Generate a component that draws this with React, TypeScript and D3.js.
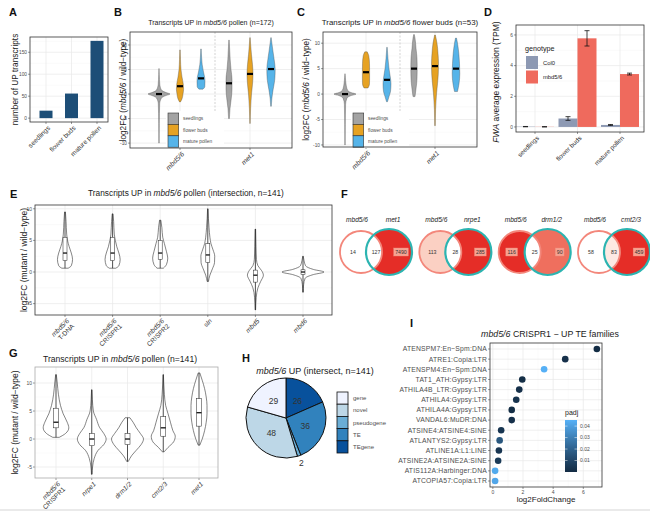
import React from 'react';
import * as d3 from 'd3';

const FONT = "'Liberation Sans', Arial, Helvetica, sans-serif";
const INK = '#1a1a1a';
const TXT = '#4d4d4d';
const GRID = '#e8e8e8';
const GRID_MINOR = '#f4f4f4';

// ---- A: number of UP transcripts
const stages = ['seedlings', 'flower buds', 'mature pollen'];
const upTranscripts = [17, 56, 176];
const aTicks = [0, 50, 100, 150];
const aMinor = [25, 75, 125, 175];

// ---- B, C: log2FC violins per tissue
const bcGenotypes = ['mbd5/6', 'met1'];
const tissues = ['seedlings', 'flower buds', 'mature pollen'];
const tissueColors = ['#a3a3a3', '#e6a223', '#56b4e9'];
const fcTicks = [-10, -5, 0, 5, 10];
const fcMinor = [-7.5, -2.5, 2.5, 7.5];

// profile: [log2FC, relative density]
const violinsB = [
  [
    { med: 0, prof: [[-10, 0.02], [-6, 0.03], [-2, 0.07], [-0.8, 0.25], [-0.3, 0.7], [0, 1.1], [0.3, 0.7], [0.8, 0.25], [2, 0.08], [4, 0.03], [5.2, 0.01]] },
    { med: 1.6, prof: [[-1.6, 0.05], [-1, 0.2], [0, 0.3], [1, 0.36], [2, 0.33], [3.5, 0.2], [5, 0.1], [7, 0.05], [9, 0.02]] },
    { med: 3.2, prof: [[1, 0.2], [1.5, 0.38], [2.5, 0.4], [3.5, 0.36], [4.5, 0.25], [6, 0.12], [7.5, 0.06], [9.2, 0.02]] },
  ],
  [
    { med: 2.2, prof: [[-5, 0.04], [-3, 0.1], [-1, 0.22], [1, 0.3], [3, 0.3], [5, 0.2], [7, 0.12], [9, 0.07], [11, 0.02]] },
    { med: 4.1, prof: [[-6, 0.02], [-3, 0.06], [0, 0.15], [2, 0.25], [4, 0.3], [6, 0.25], [8, 0.15], [10, 0.07], [11.5, 0.02]] },
    { med: 5.1, prof: [[-2.5, 0.03], [-1, 0.08], [1, 0.22], [3, 0.38], [5, 0.42], [7, 0.32], [9, 0.18], [10.5, 0.08], [11.5, 0.02]] },
  ],
];

const violinsC = [
  [
    { med: 0, prof: [[-10, 0.02], [-6, 0.03], [-2, 0.06], [-0.8, 0.2], [-0.3, 0.6], [0, 1.1], [0.3, 0.6], [0.8, 0.25], [2, 0.1], [3.3, 0.04], [4, 0.01]] },
    { med: 4.3, prof: [[1.2, 0.2], [2, 0.35], [3, 0.36], [4.5, 0.36], [6, 0.35], [7.5, 0.28], [8.3, 0.12]] },
    { med: 2.8, prof: [[-1.5, 0.05], [-0.5, 0.2], [0.5, 0.35], [2, 0.4], [3.5, 0.32], [5, 0.2], [7, 0.1], [9.2, 0.02]] },
  ],
  [
    { med: 5, prof: [[-0.5, 0.1], [1, 0.2], [3, 0.3], [5, 0.32], [7, 0.3], [9, 0.2], [11, 0.1], [11.7, 0.03]] },
    { med: 5.5, prof: [[-6.2, 0.03], [-3, 0.06], [0, 0.15], [2, 0.25], [4, 0.33], [6, 0.35], [8, 0.3], [10, 0.2], [11.6, 0.04]] },
    { med: 5, prof: [[0.5, 0.15], [2, 0.3], [4, 0.38], [6, 0.35], [8, 0.28], [10, 0.15], [11, 0.05]] },
  ],
];

// ---- D: FWA expression
const fwaGenotypes = ['Col0', 'mbd5/6'];
const fwaColors = ['#8d99b3', '#ef6a5d'];
const fwaMean = [[0.02, 0.01], [0.55, 5.78], [0.13, 3.45]];
const fwaErr = [[0.01, 0.01], [0.12, 0.5], [0.03, 0.06]];
const dTicks = [0, 2, 4, 6];
const dMinor = [1, 3, 5];

// ---- E: intersection violins
const eLabels = [['mbd5/6', 'T-DNA'], ['mbd5/6', 'CRISPR1'], ['mbd5/6', 'CRISPR2'], ['sln'], ['mbd5'], ['mbd6']];
const eViolins = [
  { lo: 0.6, q1: 1.8, med: 3, q3: 5.5, hi: 9.5, prof: [[0.6, 0.15], [1, 0.3], [2, 0.36], [3, 0.3], [4, 0.2], [5, 0.12], [6, 0.08], [8, 0.05], [9.5, 0.02]] },
  { lo: 0.6, q1: 1.8, med: 3, q3: 5.5, hi: 9.2, prof: [[0.6, 0.15], [1, 0.3], [2, 0.36], [3, 0.3], [4, 0.2], [5, 0.13], [6, 0.08], [8, 0.05], [9.2, 0.02]] },
  { lo: 0.6, q1: 2, med: 3, q3: 5, hi: 8.2, prof: [[0.6, 0.15], [1.2, 0.3], [2.2, 0.36], [3.2, 0.3], [4.5, 0.2], [5.5, 0.12], [7, 0.08], [8.2, 0.03]] },
  { lo: -1.5, q1: 1.5, med: 2.7, q3: 4.5, hi: 10, prof: [[-1.5, 0.03], [-0.5, 0.1], [0.5, 0.22], [1.5, 0.32], [2.5, 0.33], [3.5, 0.25], [4.5, 0.15], [5.5, 0.1], [7, 0.06], [8.5, 0.03], [10, 0.01]] },
  { lo: -6, q1: -1.6, med: -0.5, q3: 0.3, hi: 6.8, prof: [[-6, 0.01], [-4, 0.04], [-2.5, 0.12], [-1.5, 0.25], [-0.5, 0.38], [0.2, 0.3], [1, 0.12], [2, 0.05], [4, 0.03], [6.8, 0.01]] },
  { lo: -3.2, q1: -0.4, med: 0, q3: 0.35, hi: 2.5, prof: [[-3.2, 0.01], [-2, 0.03], [-1, 0.1], [-0.4, 0.5], [0, 1], [0.4, 0.5], [1, 0.12], [1.8, 0.05], [2.5, 0.01]] },
];
const eTicks = [-5, 0, 5, 10];
const eMinor = [-2.5, 2.5, 7.5];

// ---- F: venn overlaps
const vennPartners = ['met1', 'nrpe1', 'drm1/2', 'cmt2/3'];
const vennCounts = [[14, 127, 7490], [113, 28, 285], [116, 25, 90], [58, 83, 459]];
const vennFills = [
  ['#ffffff', '#ffffff', '#e52d27'],
  ['#fbd0c3', '#ffffff', '#e52d27'],
  ['#e52d27', '#ffffff', '#ef6f5e'],
  ['#ffffff', '#fde9e3', '#e52d27'],
];
const vennBoxed = [[false, false, true], [false, false, true], [true, false, true], [false, false, true]];

// ---- G: pollen violins
const gLabels = [['mbd5/6', 'CRISPR1'], ['nrpe1'], ['drm1/2'], ['cmt2/3'], ['met1']];
const gViolins = [
  { lo: 0.3, q1: 2, med: 3, q3: 5.5, hi: 11.5, prof: [[0.3, 0.2], [1, 0.6], [2, 0.8], [3, 0.7], [4.5, 0.45], [6, 0.28], [8, 0.15], [10, 0.08], [11.5, 0.02]] },
  { lo: -6.3, q1: -1.2, med: 0, q3: 1, hi: 8.8, prof: [[-6.3, 0.02], [-5, 0.05], [-3.5, 0.15], [-2, 0.4], [-1, 0.75], [0, 0.9], [1, 0.75], [2, 0.5], [3.5, 0.3], [5, 0.1], [7, 0.04], [8.8, 0.01]] },
  { lo: -4, q1: -1, med: 0, q3: 1, hi: 3.8, prof: [[-4, 0.05], [-3, 0.25], [-2, 0.55], [-1, 0.85], [0, 1], [1, 0.8], [2, 0.55], [3, 0.35], [3.8, 0.15]] },
  { lo: -2.3, q1: 0.5, med: 2, q3: 4, hi: 11.5, prof: [[-2.3, 0.05], [-1.5, 0.3], [-0.5, 0.65], [0.5, 0.75], [1.5, 0.6], [3, 0.45], [4.5, 0.3], [6, 0.15], [8, 0.07], [10, 0.03], [11.5, 0.01]] },
  { lo: -1.1, q1: 2.3, med: 4.7, q3: 7.2, hi: 11.8, prof: [[-1.1, 0.05], [0, 0.2], [1.5, 0.35], [3, 0.45], [4.5, 0.5], [6, 0.5], [7.5, 0.45], [9, 0.35], [10.5, 0.2], [11.8, 0.05]] },
];
const gTicks = [-5, 0, 5, 10];
const gMinor = [-2.5, 2.5, 7.5];

// ---- H: pie of categories
const pieCats = ['gene', 'novel', 'pseudogene', 'TE', 'TEgene'];
const pieCounts = [29, 48, 2, 36, 26];
const pieColors = ['#eff3ff', '#bdd7e7', '#6baed6', '#3182bd', '#08519c'];

// ---- I: TE families
const teFamilies = [
  'ATENSPM7:En\u2212Spm:DNA', 'ATRE1:Copia:LTR', 'ATENSPM4:En\u2212Spm:DNA', 'TAT1_ATH:Gypsy:LTR',
  'ATHILA4B_LTR:Gypsy:LTR', 'ATHILA4:Gypsy:LTR', 'ATHILA4A:Gypsy:LTR', 'VANDAL6:MuDR:DNA',
  'ATSINE4:ATSINE4:SINE', 'ATLANTYS2:Gypsy:LTR', 'ATLINE1A:L1:LINE', 'ATSINE2A:ATSINE2A:SINE',
  'ATIS112A:Harbinger:DNA', 'ATCOPIA57:Copia:LTR',
];
const teLog2FC = [6.9, 4.8, 3.4, 1.95, 1.75, 1.55, 1.25, 1.25, 0.55, 0.45, 0.4, 0.35, 0.15, 0.15];
const tePadj = [0.0002, 0.002, 0.045, 0.001, 0.002, 0.003, 0.001, 0.002, 0.004, 0.016, 0.004, 0.006, 0.043, 0.042];
const iTicks = [0, 2, 4, 6];
const iMinor = [1, 3, 5, 7];
const padjTicks = [0.01, 0.02, 0.03, 0.04];

type Prof = number[][];

function violinPath(prof: Prof, cx: number, y: any, w: any) {
  const pts = [...prof].reverse();
  return d3.area<number[]>()
    .y(d => y(d[0]))
    .x0(d => cx - w(d[1]))
    .x1(d => cx + w(d[1]))
    .curve(d3.curveMonotoneY)(pts) || '';
}

function Letter({ x, y, t }: any) {
  return <text x={x} y={y} fontSize={11} fontWeight="bold" fill="#111">{t}</text>;
}

function HGrid({ y, ticks, minor, x0, x1, fmt, size = 4.8 }: any) {
  return (
    <g>
      {minor.map((v: number) => (
        <line key={'m' + v} x1={x0} x2={x1} y1={y(v)} y2={y(v)} stroke={GRID_MINOR} strokeWidth={0.5} />
      ))}
      {ticks.map((v: number) => (
        <g key={v}>
          <line x1={x0} x2={x1} y1={y(v)} y2={y(v)} stroke={GRID} strokeWidth={0.7} />
          <line x1={x0 - 2} x2={x0} y1={y(v)} y2={y(v)} stroke="#333" strokeWidth={0.5} />
          <text x={x0 - 3} y={y(v)} dy="0.35em" textAnchor="end" fontSize={size} fill={TXT}>{fmt ? fmt(v) : v}</text>
        </g>
      ))}
    </g>
  );
}

function VGrid({ xs, y0, y1 }: any) {
  return (
    <g>
      {xs.map((x: number, i: number) => (
        <g key={i}>
          <line x1={x} x2={x} y1={y0} y2={y1} stroke={GRID} strokeWidth={0.7} />
          <line x1={x} x2={x} y1={y1} y2={y1 + 2} stroke="#333" strokeWidth={0.5} />
        </g>
      ))}
    </g>
  );
}

function Frame({ x0, x1, y0, y1, stroke = '#333' }: any) {
  return <rect x={x0} y={y0} width={x1 - x0} height={y1 - y0} fill="none" stroke={stroke} strokeWidth={0.8} />;
}

function RotLabel({ x, y, lines, size = 6.5, italicFirst = true }: any) {
  return (
    <text transform={`translate(${x},${y}) rotate(-45)`} textAnchor="end" fontSize={size} fill="#333">
      {lines.map((l: string, i: number) => (
        <tspan key={i} x={0} dy={i === 0 ? '0.75em' : '1.1em'} fontStyle={i === 0 && italicFirst ? 'italic' : 'normal'}>{l}</tspan>
      ))}
    </text>
  );
}

function YTitle({ x, y, children, size = 8 }: any) {
  return (
    <text transform={`translate(${x},${y}) rotate(-90)`} textAnchor="middle" fontSize={size} fill={INK}>{children}</text>
  );
}

function PanelA() {
  const x0 = 30, x1 = 108, y0 = 37, y1 = 122;
  const y = d3.scaleLinear().domain([-8.8, 184.8]).range([y1, y0]);
  const x = d3.scalePoint<string>().domain(stages).range([46, 97]);
  const bw = 13;
  return (
    <g>
      <Letter x={9} y={16} t="A" />
      <HGrid y={y} ticks={aTicks} minor={aMinor} x0={x0} x1={x1} />
      <VGrid xs={stages.map(s => x(s))} y0={y0} y1={y1} />
      {upTranscripts.map((v, i) => (
        <rect key={i} x={x(stages[i])! - bw / 2} y={y(v)} width={bw} height={y(0) - y(v)} fill="#1d4e77" />
      ))}
      <Frame x0={x0} x1={x1} y0={y0} y1={y1} />
      {stages.map(s => <RotLabel key={s} x={x(s)! + 1} y={y1 + 3} lines={[s]} size={6.6} italicFirst={false} />)}
      <YTitle x={18} y={(y0 + y1) / 2} size={8.3}>number of UP transcripts</YTitle>
    </g>
  );
}

function PanelBC({ letter, lx, title, tsize, x0, x1, y0, y1, dom, centers, sep, data, legX, yTitleX }: any) {
  const y = d3.scaleLinear().domain(dom).range([y1, y0]);
  const x = d3.scalePoint<string>().domain(bcGenotypes).range(centers);
  const dodge = d3.scalePoint<string>().domain(tissues).range([-21, 21]);
  const w = d3.scaleLinear().domain([0, 1]).range([0, 10]);
  return (
    <g>
      <Letter x={lx} y={16} t={letter} />
      <text x={(x0 + x1) / 2} y={25} textAnchor="middle" fontSize={tsize} fill={INK}>{title}</text>
      <HGrid y={y} ticks={fcTicks} minor={fcMinor} x0={x0} x1={x1} />
      <VGrid xs={bcGenotypes.map(g => x(g))} y0={y0} y1={y1} />
      <line x1={sep} x2={sep} y1={y0} y2={y1} stroke="#b5b5b5" strokeWidth={0.6} strokeDasharray="2,1.5" />
      {data.map((grp: any[], gi: number) => grp.map((v: any, ti: number) => {
        const cx = x(bcGenotypes[gi])! + dodge(tissues[ti])!;
        return (
          <g key={gi + '-' + ti}>
            <path d={violinPath(v.prof, cx, y, w)} fill={tissueColors[ti]} stroke="#444" strokeWidth={0.35} />
            <rect x={cx - 3} y={y(v.med) - 1.1} width={6} height={2.2} fill="#000" />
          </g>
        );
      }))}
      <g>
        <rect x={legX - 2} y={111} width={58} height={37} fill="#fff" />
        {tissues.map((t, i) => (
          <g key={t}>
            <rect x={legX} y={113 + i * 11.4} width={10.7} height={11.4} fill={tissueColors[i]} stroke="#333" strokeWidth={0.6} />
            <text x={legX + 15} y={113 + i * 11.4 + 5.7} dy="0.35em" fontSize={4.8} fill={TXT}>{t}</text>
          </g>
        ))}
      </g>
      <Frame x0={x0} x1={x1} y0={y0} y1={y1} />
      {bcGenotypes.map(g => <RotLabel key={g} x={x(g)! + 1} y={y1 + 3} lines={[g]} size={6.8} />)}
      <YTitle x={yTitleX} y={(y0 + y1) / 2} size={8.2}>log2FC (<tspan fontStyle="italic">mbd5/6</tspan> / wild&#8722;type)</YTitle>
    </g>
  );
}

function PanelD() {
  const x0 = 516, x1 = 644, y0 = 25, y1 = 132;
  const y = d3.scaleLinear().domain([-0.33, 6.65]).range([y1, y0]);
  const x = d3.scalePoint<string>().domain(stages).range([535, 620]);
  const bw = 19;
  const dodge = d3.scalePoint<string>().domain(fwaGenotypes).range([-bw / 2, bw / 2]);
  return (
    <g>
      <Letter x={484} y={16} t="D" />
      <HGrid y={y} ticks={dTicks} minor={dMinor} x0={x0} x1={x1} />
      <VGrid xs={stages.map(s => x(s))} y0={y0} y1={y1} />
      {fwaMean.map((row, si) => row.map((m, gi) => {
        const cx = x(stages[si])! + dodge(fwaGenotypes[gi])!;
        const e = fwaErr[si][gi];
        return (
          <g key={si + '-' + gi}>
            <rect x={cx - bw / 2} y={y(m)} width={bw} height={y(0) - y(m)} fill={fwaColors[gi]} />
            <line x1={cx} x2={cx} y1={y(m - e)} y2={y(m + e)} stroke="#111" strokeWidth={0.8} />
            <line x1={cx - 2.5} x2={cx + 2.5} y1={y(m - e)} y2={y(m - e)} stroke="#111" strokeWidth={0.8} />
            <line x1={cx - 2.5} x2={cx + 2.5} y1={y(m + e)} y2={y(m + e)} stroke="#111" strokeWidth={0.8} />
          </g>
        );
      }))}
      <Frame x0={x0} x1={x1} y0={y0} y1={y1} />
      <text x={525} y={51} fontSize={7.2} fill={INK}>genotype</text>
      {fwaGenotypes.map((g, i) => (
        <g key={g}>
          <rect x={526} y={56 + i * 14.5} width={12} height={13} fill={fwaColors[i]} />
          <text x={543} y={62.5 + i * 14.5} dy="0.35em" fontSize={5.8} fill={INK}>{g}</text>
        </g>
      ))}
      {stages.map(s => <RotLabel key={s} x={x(s)! + 1} y={y1 + 3} lines={[s]} size={6.4} italicFirst={false} />)}
      <YTitle x={499} y={82} size={8.5}><tspan fontStyle="italic">FWA</tspan> average expression (TPM)</YTitle>
    </g>
  );
}

function ViolinBox({ letter, lx, ly, title, tx, ty, tsize, x0, x1, y0, y1, dom, xr, labels, data, ticks, minor, wmax, bw, frame, yTitleX }: any) {
  const y = d3.scaleLinear().domain(dom).range([y1, y0]);
  const keys = labels.map((l: string[]) => l.join(' '));
  const x = d3.scalePoint<string>().domain(keys).range(xr);
  const w = d3.scaleLinear().domain([0, 1]).range([0, wmax]);
  return (
    <g>
      <Letter x={lx} y={ly} t={letter} />
      <text x={tx} y={ty} textAnchor="middle" fontSize={tsize} fill={INK}>{title}</text>
      <HGrid y={y} ticks={ticks} minor={minor} x0={x0} x1={x1} size={5} />
      <VGrid xs={keys.map((k: string) => x(k))} y0={y0} y1={y1} />
      {data.map((v: any, i: number) => {
        const cx = x(keys[i])!;
        return (
          <g key={i}>
            <path d={violinPath(v.prof, cx, y, w)} fill="#fff" stroke="#333" strokeWidth={0.6} />
            <line x1={cx} x2={cx} y1={y(v.lo)} y2={y(v.hi)} stroke="#222" strokeWidth={0.8} />
            <rect x={cx - bw / 2} y={y(v.q3)} width={bw} height={y(v.q1) - y(v.q3)} fill="#fff" stroke="#222" strokeWidth={0.5} />
            <line x1={cx - bw / 2} x2={cx + bw / 2} y1={y(v.med)} y2={y(v.med)} stroke="#111" strokeWidth={1.3} />
          </g>
        );
      })}
      <Frame x0={x0} x1={x1} y0={y0} y1={y1} stroke={frame} />
      {keys.map((k: string, i: number) => <RotLabel key={k} x={x(k)! + 1} y={y1 + 3} lines={labels[i]} size={6.6} />)}
      <YTitle x={yTitleX} y={(y0 + y1) / 2} size={8.5}>log2FC (mutant / wild&#8722;type)</YTitle>
    </g>
  );
}

function PanelF() {
  const cy = 252, r1 = 21, r2 = 23, d = 28;
  const xs = d3.scalePoint<string>().domain(vennPartners).range([361, 599]);
  const a = (d * d + r1 * r1 - r2 * r2) / (2 * d);
  const h = Math.sqrt(r1 * r1 - a * a);
  return (
    <g>
      <Letter x={341} y={198} t="F" />
      {vennPartners.map((p, i) => {
        const c1 = xs(p)!, c2 = c1 + d;
        const px = c1 + a;
        const lens = `M${px},${cy - h} A${r1},${r1} 0 0 1 ${px},${cy + h} A${r2},${r2} 0 0 1 ${px},${cy - h} Z`;
        const fills = vennFills[i];
        const pos = [c1 - 8, c1 + 15, c2 + 12];
        return (
          <g key={p}>
            <circle cx={c1} cy={cy} r={r1} fill={fills[0]} />
            <circle cx={c2} cy={cy} r={r2} fill={fills[2]} />
            <path d={lens} fill={fills[1]} />
            <circle cx={c1} cy={cy} r={r1} fill="none" stroke="#f3877b" strokeWidth={1.8} />
            <circle cx={c2} cy={cy} r={r2} fill="none" stroke="#2cb4b1" strokeWidth={2.2} />
            <text x={c1 - 4} y={222} textAnchor="middle" fontSize={6.6} fontStyle="italic" fill={INK}>mbd5/6</text>
            <text x={c2 + 4} y={222} textAnchor="middle" fontSize={6.6} fontStyle="italic" fill={INK}>{p}</text>
            {vennCounts[i].map((n, k) => {
              const tw = String(n).length * 2.9 + 3;
              return (
                <g key={k}>
                  {vennBoxed[i][k] && <rect x={pos[k] - tw / 2} y={cy - 4} width={tw} height={8} fill="#f6a392" stroke="#f08a7a" strokeWidth={0.4} />}
                  <text x={pos[k]} y={cy} dy="0.35em" textAnchor="middle" fontSize={5.2} fill="#333">{n}</text>
                </g>
              );
            })}
          </g>
        );
      })}
    </g>
  );
}

function PanelH() {
  const cx = 286, cy = 418, R = 40;
  const order = [4, 3, 2, 1, 0];
  const pie = d3.pie<number>().sort(null).value(i => pieCounts[i]);
  const arcs = pie(order);
  const arc = d3.arc<any>().innerRadius(0).outerRadius(R);
  return (
    <g>
      <Letter x={242} y={362} t="H" />
      <text x={315} y={374} textAnchor="middle" fontSize={9} fill={INK}><tspan fontStyle="italic">mbd5/6</tspan> UP (intersect, n=141)</text>
      <g transform={`translate(${cx},${cy})`}>
        {arcs.map(a => (
          <path key={a.data} d={arc(a) || ''} fill={pieColors[a.data]} stroke="#111" strokeWidth={1} />
        ))}
        {arcs.map(a => {
          const mid = (a.startAngle + a.endAngle) / 2;
          const rr = pieCounts[a.data] < 5 ? R * 1.18 : R * 0.52;
          return (
            <text key={'t' + a.data} x={Math.sin(mid) * rr} y={-Math.cos(mid) * rr} dy="0.35em" textAnchor="middle" fontSize={8.5} fill="#333">{pieCounts[a.data]}</text>
          );
        })}
      </g>
      {pieCats.map((c, i) => (
        <g key={c}>
          <rect x={337} y={392 + i * 12.2} width={11} height={12.2} fill={pieColors[i]} stroke="#111" strokeWidth={0.8} />
          <text x={353} y={398 + i * 12.2} dy="0.35em" fontSize={6} fill={TXT}>{c}</text>
        </g>
      ))}
    </g>
  );
}

function PanelI() {
  const x0 = 490, x1 = 602, y0 = 343, y1 = 487;
  const x = d3.scaleLinear().domain([-0.19, 7.24]).range([x0, x1]);
  const y = d3.scalePoint<string>().domain(teFamilies).range([349, 481]);
  const c = d3.scaleLinear<string>().domain([0, 0.0453]).range(['#132B43', '#56B1F7']).interpolate(d3.interpolateLab);
  const cb = d3.scaleLinear().domain([0, 0.0453]).range([472, 420]);
  const stops = d3.range(0, 1.01, 0.1);
  return (
    <g>
      <Letter x={410} y={327} t="I" />
      <text x={550} y={337} textAnchor="middle" fontSize={8.8} fill={INK}><tspan fontStyle="italic">mbd5/6</tspan> CRISPR1 &#8722; UP TE families</text>
      {iMinor.map(v => <line key={'m' + v} x1={x(v)} x2={x(v)} y1={y0} y2={y1} stroke={GRID_MINOR} strokeWidth={0.5} />)}
      {iTicks.map(v => (
        <g key={v}>
          <line x1={x(v)} x2={x(v)} y1={y0} y2={y1} stroke={GRID} strokeWidth={0.7} />
          <line x1={x(v)} x2={x(v)} y1={y1} y2={y1 + 2} stroke="#333" strokeWidth={0.5} />
          <text x={x(v)} y={y1 + 6.5} textAnchor="middle" fontSize={5} fill={TXT}>{v}</text>
        </g>
      ))}
      {teFamilies.map(f => (
        <g key={f}>
          <line x1={x0} x2={x1} y1={y(f)} y2={y(f)} stroke={GRID} strokeWidth={0.7} />
          <line x1={x0 - 2} x2={x0} y1={y(f)} y2={y(f)} stroke="#333" strokeWidth={0.5} />
          <text x={x0 - 3} y={y(f)} dy="0.35em" textAnchor="end" fontSize={6.8} letterSpacing={0.2} fill={TXT}>{f}</text>
        </g>
      ))}
      {teFamilies.map((f, i) => (
        <circle key={'p' + f} cx={x(teLog2FC[i])} cy={y(f)} r={3.3} fill={c(tePadj[i])} />
      ))}
      <Frame x0={x0} x1={x1} y0={y0} y1={y1} />
      <text x={546} y={502} textAnchor="middle" fontSize={8} fill={INK}>log2FoldChange</text>
      <defs>
        <linearGradient id="padjGrad" x1="0" y1="1" x2="0" y2="0">
          {stops.map(s => <stop key={s} offset={s} stopColor={c(s * 0.0453)} />)}
        </linearGradient>
      </defs>
      <text x={565} y={415} fontSize={7} fill={INK}>padj</text>
      <rect x={565} y={420} width={12} height={52} fill="url(#padjGrad)" />
      {padjTicks.map(t => (
        <g key={t}>
          <line x1={565} x2={567.5} y1={cb(t)} y2={cb(t)} stroke="#fff" strokeWidth={0.5} />
          <line x1={574.5} x2={577} y1={cb(t)} y2={cb(t)} stroke="#fff" strokeWidth={0.5} />
          <text x={580} y={cb(t)} dy="0.35em" fontSize={5} fill={TXT}>{t.toFixed(2)}</text>
        </g>
      ))}
    </g>
  );
}

export default function App() {
  const titleB = <>Transcripts UP in <tspan fontStyle="italic">mbd5/6</tspan> pollen (n=172)</>;
  const titleC = <>Transcripts UP in <tspan fontStyle="italic">mbd5/6</tspan> flower buds (n=53)</>;
  const titleE = <>Transcripts UP in <tspan fontStyle="italic">mbd5/6</tspan> pollen (intersection, n=141)</>;
  const titleG = <>Transcripts UP in <tspan fontStyle="italic">mbd5/6</tspan> pollen (n=141)</>;
  return (
    <svg width={650} height={513} fontFamily={FONT} style={{ position: 'absolute', left: 0, top: 0, background: '#fff' }}>
      <rect width={650} height={513} fill="#fff" />
      <PanelA />
      <PanelBC letter="B" lx={114} title={titleB} tsize={7} x0={130} x1={292} y0={32} y1={148} dom={[-11.0, 12.65]}
        centers={[180, 250]} sep={215} data={violinsB} legX={168} yTitleX={126} />
      <PanelBC letter="C" lx={297} title={titleC} tsize={7.9} x0={323} x1={477} y0={32} y1={147} dom={[-10.4, 12.2]}
        centers={[366, 435]} sep={400} data={violinsC} legX={353} yTitleX={309} />
      <PanelD />
      <ViolinBox letter="E" lx={10} ly={198} title={titleE} tx={186} ty={196} tsize={8.3} x0={35} x1={332} y0={205} y1={315}
        dom={[-6.8, 10.6]} xr={[65, 303]} labels={eLabels} data={eViolins} ticks={eTicks} minor={eMinor}
        wmax={21} bw={4} frame="#333" yTitleX={27} />
      <PanelF />
      <ViolinBox letter="G" lx={9} ly={357} title={titleG} tx={120} ty={362} tsize={8.6} x0={35} x1={218} y0={367} y1={478}
        dom={[-6.96, 12.86]} xr={[56, 199]} labels={gLabels} data={gViolins} ticks={gTicks} minor={gMinor}
        wmax={16} bw={5} frame="#aaa" yTitleX={18} />
      <PanelH />
      <PanelI />
      <line x1={0} x2={650} y1={510} y2={510} stroke="#d5d5d5" strokeWidth={1} />
    </svg>
  );
}
